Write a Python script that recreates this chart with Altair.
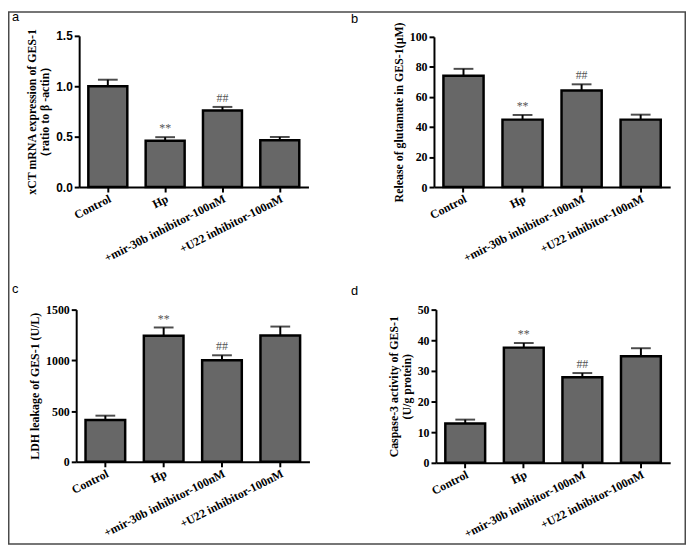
import altair as alt
import pandas as pd

groups = ["Control", "Hp", "+mir-30b inhibitor-100nM", "+U22 inhibitor-100nM"]
sig = ["", "**", "##", ""]

a_mean = [1.00, 0.46, 0.76, 0.465]
a_upper = [1.065, 0.495, 0.795, 0.497]
b_mean = [74.1, 44.9, 64.3, 44.9]
b_upper = [78.7, 48.0, 68.4, 48.2]
c_mean = [412, 1242, 1002, 1244]
c_upper = [455, 1324, 1050, 1333]
d_mean = [12.8, 37.6, 27.9, 34.8]
d_upper = [14.1, 39.1, 29.3, 37.4]

a_ticks = [0, 0.5, 1.0, 1.5]
b_ticks = [0, 20, 40, 60, 80, 100]
c_ticks = [0, 500, 1000, 1500]
d_ticks = [0, 10, 20, 30, 40, 50]

a_title = ["xCT mRNA expression of GES-1", "（ratio to β -actin）"]
b_title = "Release of glutamate in GES-1(μM)"
c_title = "LDH leakage of GES-1 (U/L)"
d_title = ["Caspase-3 activity of GES-1", "(U/g protein)"]

SERIF = "Liberation Serif"
SANS = "Liberation Sans"
BAR = "#676767"
BORDER = "#4a4a4a"
W, H = 686, 540


def panel(mean, upper, ticks, title, fmt, xr, yr, tick_font):
    df = pd.DataFrame({"group": groups, "mean": mean, "upper": upper, "sig": sig})
    xs = alt.Scale(range=xr, paddingInner=0.32, paddingOuter=0.16)
    ys = alt.Scale(domain=[0, ticks[-1]], range=[yr[1], yr[0]], nice=False, zero=True)
    xaxis = alt.Axis(orient="bottom", offset=yr[1] - H, title=None,
                     labelAngle=-27, labelAlign="right", labelBaseline="top",
                     labelFont=SERIF, labelFontWeight="bold", labelFontSize=12,
                     labelPadding=1, labelOverlap=False, labelLimit=400,
                     labelBound=False, labelFlush=False)
    yaxis = alt.Axis(orient="left", offset=-xr[0], values=ticks, format=fmt,
                     title=title, labelFont=tick_font, labelFontWeight="bold",
                     labelFontSize=12, labelPadding=2, labelOverlap=False,
                     labelBound=False, labelFlush=False,
                     titleFont=SERIF, titleFontWeight="bold", titleFontSize=12,
                     titlePadding=4, titleLineHeight=13)
    X = alt.X("group:N", sort=groups, scale=xs, axis=xaxis)
    Y = alt.Y("mean:Q", scale=ys, axis=yaxis)
    YU = alt.Y("upper:Q", scale=ys, axis=yaxis)
    base = alt.Chart(df)
    bars = base.mark_bar(fill=BAR, stroke="black", strokeWidth=2.5).encode(x=X, y=Y)
    err = base.mark_rule(color="black", strokeWidth=2).encode(x=X, y=Y, y2="upper:Q")
    cap = base.mark_tick(color="black", thickness=2, size=20).encode(x=X, y=YU)
    txt = base.mark_text(font=SERIF, fontSize=12, color="#555555",
                         baseline="middle", dy=-9).encode(x=X, y=YU, text="sig:N")
    return alt.layer(bars, err, cap, txt)


# plot areas in chart pixels: (x0, x1), (y_top, y_bottom)
pa = panel(a_mean, a_upper, a_ticks, a_title, ".1f", [72, 304], [25, 178], SANS)
pb = panel(b_mean, b_upper, b_ticks, b_title, "d", [431, 670], [26, 178], SERIF)
pc = panel(c_mean, c_upper, c_ticks, c_title, "d", [69, 305], [302, 456], SERIF)
pd_ = panel(d_mean, d_upper, d_ticks, d_title, "d", [433, 670], [302, 457], SERIF)

one = alt.Chart(alt.Data(values=[{"k": 1}]))
letters = [("a", 4, 10), ("b", 347, 12), ("c", 4, 285), ("d", 347, 287)]
decor = []
for t, lx, ly in letters:
    decor.append(one.mark_text(font=SANS, fontSize=13, align="left",
                               baseline="alphabetic", color="black").encode(
        x=alt.value(lx), y=alt.value(ly), text=alt.value(t)))
decor.append(one.mark_rect(fill="white", fillOpacity=0, stroke=BORDER,
                           strokeWidth=1.5).encode(
    x=alt.value(0.75), x2=alt.value(W - 0.75),
    y=alt.value(0.75), y2=alt.value(H - 0.75)))

chart = alt.layer(pa, pb, pc, pd_, *decor).resolve_scale(
    x="independent", y="independent"
).resolve_axis(
    x="independent", y="independent"
).properties(
    width=W, height=H, padding=0,
    autosize=alt.AutoSizeParams(type="none"),
).configure_view(stroke=None).configure_axis(
    domainColor="black", domainWidth=2, tickColor="black", tickWidth=2,
    tickSize=5, grid=False, labelColor="black", titleColor="black",
)

chart.save("out.html", embed_options={"renderer": "svg", "actions": False})
